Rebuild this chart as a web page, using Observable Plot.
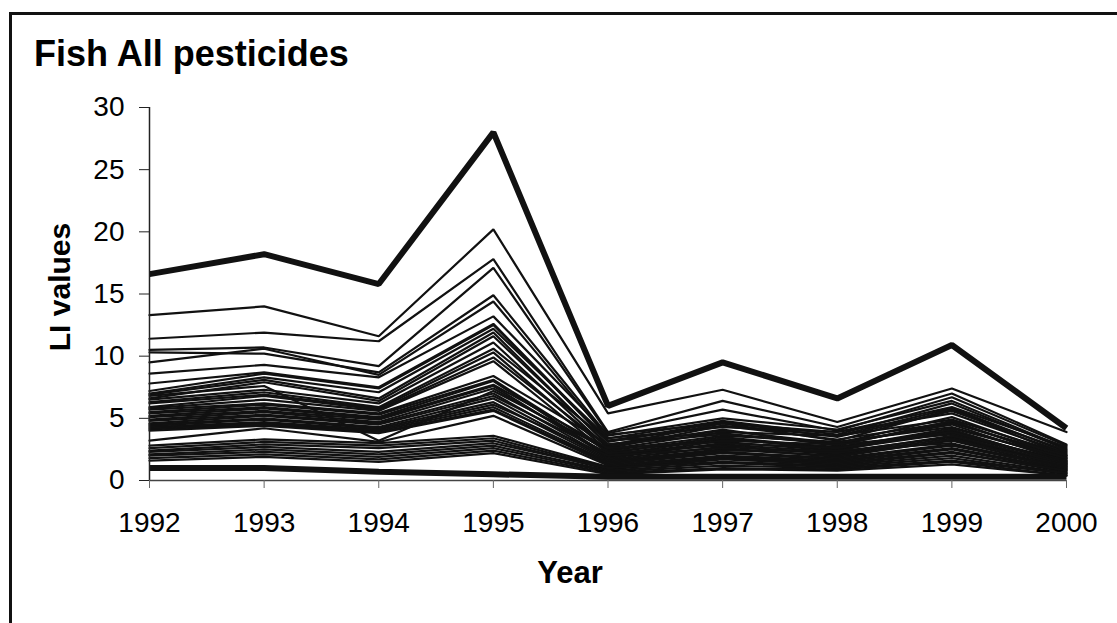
<!DOCTYPE html>
<html>
<head>
<meta charset="utf-8">
<script src="https://cdn.jsdelivr.net/npm/d3@7"></script>
<script src="https://cdn.jsdelivr.net/npm/@observablehq/plot@0.6"></script>
<style>
  html, body { margin: 0; padding: 0; background: #fff; overflow: hidden; }
  #wrap { position: relative; width: 1117px; height: 623px; overflow: hidden; font-family: "Liberation Sans", Arial, sans-serif; }
  #frame { position: absolute; left: 9px; top: 12px; width: 1200px; height: 700px; border: 3px solid #111; box-sizing: border-box; }
  #chart { position: absolute; left: 0; top: 0; }
  .lbl { position: absolute; color: #000; font-weight: bold; white-space: nowrap; line-height: 1; }
</style>
</head>
<body>
<div id="wrap">
  <div id="frame"></div>
  <div id="chart"></div>
  <div class="lbl" id="title" style="left:34px; top:36px; font-size:36px;">Fish All pesticides</div>
  <div class="lbl" id="xlabel" style="left:570px; top:557px; font-size:31px; transform:translateX(-50%);">Year</div>
  <div class="lbl" id="ylabel" style="left:60px; top:287px; font-size:30px; transform:translate(-50%,-50%) rotate(-90deg);">LI values</div>
</div>
<script>
// ---- data ----
const years = [1992, 1993, 1994, 1995, 1996, 1997, 1998, 1999, 2000];
const yTicks = [0, 5, 10, 15, 20, 25, 30];

// thick outline series
const maxSeries = [16.6, 18.2, 15.8, 28.0, 6.0, 9.5, 6.6, 10.9, 4.2];
const minSeries = [1.0, 1.0, 0.7, 0.5, 0.3, 0.3, 0.3, 0.3, 0.3];

// thin series, upper group
const upperSeries = [
  [13.3, 14.0, 11.6, 20.2, 5.4, 7.3, 4.7, 7.4, 3.9],
  [11.4, 11.9, 11.2, 17.8, 3.9, 6.4, 4.3, 7.0, 2.9],
  [10.5, 10.7, 9.2, 17.1, 3.8, 5.7, 4.0, 6.7, 2.8],
  [10.3, 10.2, 8.7, 14.9, 3.6, 5.0, 4.1, 6.4, 2.6],
  [9.5, 10.6, 8.5, 14.4, 3.4, 4.8, 3.7, 6.2, 2.5],
  [8.6, 9.3, 8.3, 13.2, 3.7, 4.6, 3.9, 5.9, 2.7],
  [7.8, 8.7, 7.5, 12.6, 3.2, 4.4, 3.6, 5.8, 2.3]
];

// thin series, dense middle group
const middleSeries = [
  [7.2, 8.6, 7.4, 12.5, 3.1, 4.7, 3.5, 5.6, 2.4],
  [7.0, 8.3, 7.1, 12.2, 3.4, 4.3, 3.9, 5.4, 2.2],
  [6.9, 8.1, 6.6, 11.9, 2.8, 4.6, 3.2, 5.7, 2.0],
  [6.8, 7.6, 3.2, 7.2, 2.5, 3.9, 3.6, 4.9, 2.1],
  [6.6, 7.9, 6.4, 11.6, 2.9, 4.0, 3.0, 5.1, 1.9],
  [6.5, 7.3, 6.2, 11.1, 2.6, 4.4, 3.3, 4.7, 1.8],
  [6.3, 7.1, 5.9, 10.6, 3.2, 3.8, 2.9, 4.6, 2.0],
  [6.2, 6.9, 5.8, 10.3, 2.4, 3.6, 3.1, 4.3, 1.7],
  [5.9, 6.8, 5.7, 9.9, 2.7, 4.1, 2.8, 4.8, 1.6],
  [5.8, 6.5, 5.6, 9.6, 2.2, 3.5, 2.6, 4.2, 1.8],
  [5.7, 6.2, 5.4, 8.4, 2.9, 3.7, 3.0, 4.5, 1.5],
  [5.5, 6.1, 5.3, 8.1, 2.3, 3.3, 2.7, 4.0, 1.4],
  [5.4, 5.9, 5.1, 8.0, 2.0, 3.4, 2.5, 3.8, 1.6],
  [5.2, 5.8, 5.0, 7.7, 2.6, 3.1, 2.4, 4.1, 1.3],
  [5.1, 5.6, 4.9, 7.6, 1.9, 3.2, 2.9, 3.7, 1.5],
  [4.9, 5.5, 4.7, 7.4, 2.1, 2.9, 2.3, 3.5, 1.2],
  [4.8, 5.3, 4.6, 7.0, 1.8, 3.0, 2.6, 3.9, 1.4],
  [4.6, 5.2, 4.5, 6.8, 2.2, 2.8, 2.1, 3.4, 1.1],
  [4.5, 5.0, 4.3, 6.6, 1.7, 2.7, 2.2, 3.6, 1.3],
  [4.4, 4.9, 4.2, 6.3, 1.6, 2.5, 2.0, 3.2, 1.0],
  [4.3, 4.7, 4.1, 6.1, 2.0, 2.6, 1.9, 3.3, 1.2],
  [4.2, 4.6, 4.0, 5.9, 1.5, 2.4, 2.4, 3.0, 0.9],
  [4.1, 4.5, 3.9, 5.7, 1.4, 2.3, 1.8, 2.9, 1.1],
  [4.0, 4.4, 3.8, 5.6, 1.3, 2.2, 1.7, 2.8, 1.0],
  [3.2, 4.2, 3.1, 5.2, 1.2, 2.0, 1.6, 2.6, 0.9]
];

// thin series, lower group
const lowerSeries = [
  [2.8, 3.3, 3.0, 3.6, 1.1, 1.9, 1.5, 2.5, 0.8],
  [2.6, 3.1, 2.8, 3.4, 1.0, 1.8, 1.4, 2.3, 0.7],
  [2.4, 2.9, 2.6, 3.2, 0.9, 1.7, 1.3, 2.2, 0.8],
  [2.3, 2.7, 2.3, 3.0, 1.0, 1.5, 1.2, 2.0, 0.6],
  [2.1, 2.5, 2.1, 2.8, 0.8, 1.4, 1.1, 1.8, 0.5],
  [2.0, 2.3, 1.9, 2.6, 0.7, 1.2, 1.0, 1.6, 0.6],
  [1.8, 2.1, 1.7, 2.4, 0.6, 1.0, 0.9, 1.5, 0.4],
  [1.6, 1.9, 1.5, 2.2, 0.5, 0.9, 0.8, 1.3, 0.4]
];

// ---- build long tables ----
function toRows(seriesList, prefix) {
  const rows = [];
  seriesList.forEach((vals, i) => {
    vals.forEach((v, j) => rows.push({ id: prefix + i, year: years[j], value: v }));
  });
  return rows;
}
const thinRows = [
  ...toRows(upperSeries, "u"),
  ...toRows(middleSeries, "m"),
  ...toRows(lowerSeries, "l")
];
const thickRows = [
  ...toRows([maxSeries], "max"),
  ...toRows([minSeries], "min")
];

const chart = Plot.plot({
  width: 1117,
  height: 623,
  marginLeft: 149,
  marginRight: 51,
  marginTop: 107,
  marginBottom: 143,
  style: { fontFamily: "'Liberation Sans', Arial, sans-serif", color: "#000", background: "transparent" },
  x: { domain: [1992, 2000] },
  y: { domain: [0, 30] },
  marks: [
    Plot.lineY(thinRows, { x: "year", y: "value", z: "id", stroke: "#111", strokeWidth: 2.2, strokeLinejoin: "miter" }),
    Plot.lineY(thickRows, { x: "year", y: "value", z: "id", stroke: "#111", strokeWidth: 6, strokeLinejoin: "miter", strokeLinecap: "butt" }),
    Plot.ruleX([1992], { y1: 0, y2: 30, stroke: "#222", strokeWidth: 1.5 }),
    Plot.ruleY([0], { stroke: "#444", strokeWidth: 1.5 }),
    Plot.axisY({ ticks: yTicks, tickSize: 10, tickPadding: 15, fontSize: 28, label: null, stroke: "#222" }),
    Plot.axisX({ ticks: years, tickFormat: d => String(d), tickSize: 8, tickPadding: 24, fontSize: 28, label: null, stroke: "#666" })
  ]
});
document.getElementById("chart").appendChild(chart);
</script>
</body>
</html>
